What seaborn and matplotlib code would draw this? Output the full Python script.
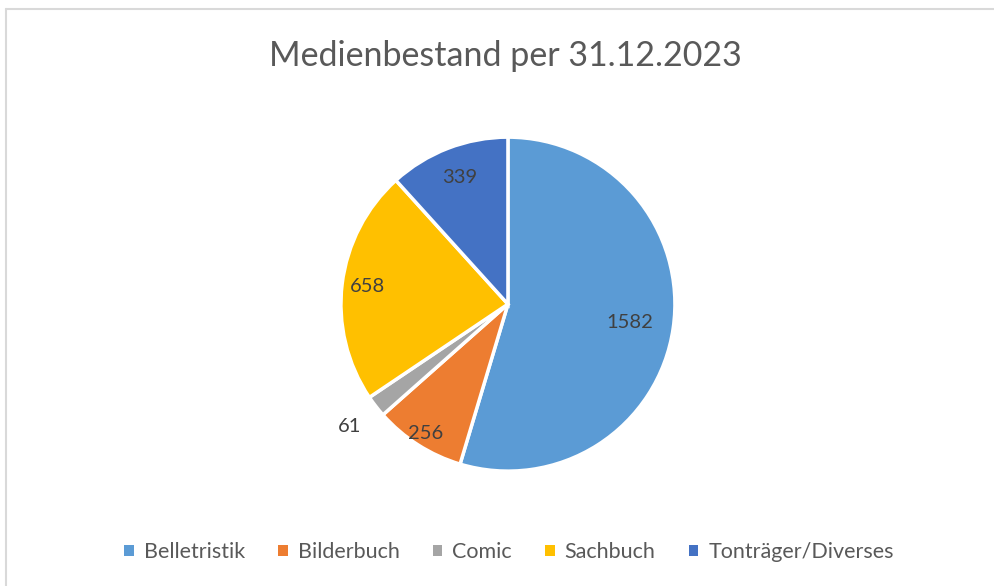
# Kreisdiagramm: Medienbestand per 31.12.2023
import seaborn as sns
import matplotlib.pyplot as plt
import numpy as np
from matplotlib.lines import Line2D
from matplotlib.patches import Patch

sns.set_theme(style="white")
plt.rcParams['font.family'] = ['Lato', 'DejaVu Sans']

kategorien = ["Belletristik", "Bilderbuch", "Comic", "Sachbuch", "Tonträger/Diverses"]
werte = [1582, 256, 61, 658, 339]
farben = ["#5B9BD5", "#ED7D31", "#A5A5A5", "#FFC000", "#4472C4"]
# Abstand der Beschriftung vom Mittelpunkt (Anteil des Radius)
label_abstand = [0.74, 0.92, 1.20, 0.85, 0.81]

fig = plt.figure(figsize=(9.94, 5.86), dpi=100)
ax = fig.add_axes([0.343, 0.196, 0.336, 0.570])

wedges, _ = ax.pie(werte, colors=farben, startangle=90, counterclock=False,
                   radius=1.0, wedgeprops=dict(edgecolor="white", linewidth=2.5))
ax.set_xlim(-1, 1)
ax.set_ylim(-1, 1)
ax.set_aspect("equal")
ax.axis("off")

for w, v, d in zip(wedges, werte, label_abstand):
    ang = np.deg2rad((w.theta1 + w.theta2) / 2)
    ax.text(d * np.cos(ang), d * np.sin(ang), str(v), ha="center", va="center",
            fontsize=14.5, color="#404040", clip_on=False)

fig.text(0.508, 0.905, "Medienbestand per 31.12.2023", ha="center", va="center",
         fontsize=24.5, color="#595959")

handles = [Patch(facecolor=c, edgecolor="none") for c in farben]
fig.legend(handles, kategorien, loc="center", bbox_to_anchor=(0.512, 0.058),
           ncol=5, frameon=False, fontsize=15.5, labelcolor="#595959",
           handlelength=0.45, handleheight=0.45, handletextpad=0.45,
           columnspacing=1.55)

# Rahmen des Diagrammbereichs
fig.add_artist(Line2D([0.006, 1.0], [0.984, 0.984], color="#D9D9D9", lw=1.5,
                      transform=fig.transFigure))
fig.add_artist(Line2D([0.006, 0.006], [0.0, 0.984], color="#D9D9D9", lw=1.5,
                      transform=fig.transFigure))

fig.savefig("out.png", dpi=100)
